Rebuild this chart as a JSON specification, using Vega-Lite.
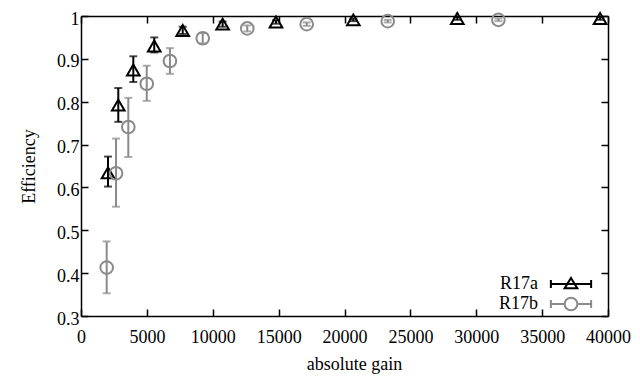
{
  "$schema": "https://vega.github.io/schema/vega-lite/v6.json",
  "width": 527,
  "height": 300,
  "autosize": "none",
  "padding": {"left": 81, "top": 16, "right": 32, "bottom": 68},
  "background": "white",
  "config": {
    "view": {"stroke": null},
    "font": "Liberation Serif",
    "axis": {
      "labelFont": "Liberation Serif",
      "titleFont": "Liberation Serif",
      "labelFontSize": 18,
      "titleFontSize": 18,
      "titleFontWeight": "normal",
      "labelColor": "black",
      "titleColor": "black",
      "domainColor": "black",
      "tickColor": "black",
      "domainWidth": 1.5,
      "tickWidth": 1.5,
      "tickSize": -7,
      "labelFlush": false,
      "grid": false
    },
    "legend": {
      "labelFont": "Liberation Serif",
      "labelFontSize": 18,
      "labelColor": "black"
    }
  },
  "data": {
    "values": [
      {"series": "R17a", "gain": 2050, "eff": 0.634, "lo": 0.602, "hi": 0.672},
      {"series": "R17a", "gain": 2830, "eff": 0.792, "lo": 0.753, "hi": 0.832},
      {"series": "R17a", "gain": 3970, "eff": 0.874, "lo": 0.846, "hi": 0.906},
      {"series": "R17a", "gain": 5560, "eff": 0.930, "lo": 0.915, "hi": 0.950},
      {"series": "R17a", "gain": 7720, "eff": 0.966, "lo": 0.958, "hi": 0.975},
      {"series": "R17a", "gain": 10750, "eff": 0.981, "lo": 0.975, "hi": 0.987},
      {"series": "R17a", "gain": 14800, "eff": 0.986, "lo": 0.982, "hi": 0.990},
      {"series": "R17a", "gain": 20670, "eff": 0.991, "lo": 0.988, "hi": 0.994},
      {"series": "R17a", "gain": 28560, "eff": 0.994, "lo": 0.991, "hi": 0.997},
      {"series": "R17a", "gain": 39400, "eff": 0.994, "lo": 0.991, "hi": 0.997},
      {"series": "R17b", "gain": 1950, "eff": 0.413, "lo": 0.353, "hi": 0.474},
      {"series": "R17b", "gain": 2660, "eff": 0.633, "lo": 0.555, "hi": 0.714},
      {"series": "R17b", "gain": 3590, "eff": 0.741, "lo": 0.671, "hi": 0.809},
      {"series": "R17b", "gain": 4990, "eff": 0.842, "lo": 0.802, "hi": 0.884},
      {"series": "R17b", "gain": 6750, "eff": 0.895, "lo": 0.865, "hi": 0.925},
      {"series": "R17b", "gain": 9240, "eff": 0.948, "lo": 0.936, "hi": 0.960},
      {"series": "R17b", "gain": 12620, "eff": 0.971, "lo": 0.964, "hi": 0.978},
      {"series": "R17b", "gain": 17130, "eff": 0.981, "lo": 0.977, "hi": 0.985},
      {"series": "R17b", "gain": 23280, "eff": 0.988, "lo": 0.985, "hi": 0.991},
      {"series": "R17b", "gain": 31680, "eff": 0.991, "lo": 0.988, "hi": 0.994}
    ]
  },
  "resolve": {"axis": {"x": "independent", "y": "independent"}},
  "layer": [
    {
      "mark": {"type": "rule", "strokeWidth": 2},
      "encoding": {
        "x": {"field": "gain", "type": "quantitative", "scale": {"domain": [0, 40000], "nice": false},
              "axis": {"orient": "bottom", "values": [0,5000,10000,15000,20000,25000,30000,35000,40000], "format": "d", "title": "absolute gain", "labelPadding": 19, "titlePadding": 9, "titleX": 273}},
        "y": {"field": "lo", "type": "quantitative", "scale": {"domain": [0.3, 1], "nice": false, "zero": false},
              "axis": {"orient": "left", "values": [0.3,0.4,0.5,0.6,0.7,0.8,0.9,1], "format": ".1~f", "title": "Efficiency", "labelPadding": 9, "labelOffset": 3, "titlePadding": 18}},
        "y2": {"field": "hi"},
        "detail": {"field": "series", "type": "nominal"},
        "stroke": {"condition": {"test": "datum.series === 'R17b'", "value": "#8a8a8a"}, "value": "#000000"}
      }
    },
    {
      "mark": {"type": "tick", "orient": "horizontal", "size": 8, "thickness": 2},
      "encoding": {
        "x": {"field": "gain", "type": "quantitative", "axis": {"orient": "top", "values": [0,5000,10000,15000,20000,25000,30000,35000,40000], "labels": false, "title": null}},
        "y": {"field": "hi", "type": "quantitative", "axis": {"orient": "right", "values": [0.3,0.4,0.5,0.6,0.7,0.8,0.9,1], "labels": false, "title": null}},
        "fill": {"condition": {"test": "datum.series === 'R17b'", "value": "#8a8a8a"}, "value": "#000000"}
      }
    },
    {
      "mark": {"type": "tick", "orient": "horizontal", "size": 8, "thickness": 2},
      "encoding": {
        "x": {"field": "gain", "type": "quantitative", "axis": null},
        "y": {"field": "lo", "type": "quantitative", "axis": null},
        "fill": {"condition": {"test": "datum.series === 'R17b'", "value": "#8a8a8a"}, "value": "#000000"}
      }
    },
    {
      "mark": {"type": "point", "filled": false, "strokeWidth": 2, "size": 160, "opacity": 1},
      "encoding": {
        "x": {"field": "gain", "type": "quantitative", "axis": null},
        "y": {"field": "eff", "type": "quantitative", "axis": null},
        "stroke": {"condition": {"test": "datum.series === 'R17b'", "value": "#8a8a8a"}, "value": "#000000"},
        "shape": {"condition": {"test": "datum.series === 'R17b'", "value": "circle"}, "value": "triangle-up"}
      }
    },
    {
      "mark": {"type": "point", "filled": false, "strokeWidth": 2, "size": 160, "opacity": 0},
      "encoding": {
        "x": {"field": "gain", "type": "quantitative", "axis": null},
        "y": {"field": "eff", "type": "quantitative", "axis": null},
        "color": {"field": "series", "type": "nominal", "scale": {"domain": ["R17a", "R17b"], "range": ["#000000", "#8a8a8a"]},
                  "legend": {"title": null, "orient": "none", "legendX": 481, "legendY": 259, "labelAlign": "right", "labelOffset": -42, "symbolSize": 180, "symbolStrokeWidth": 2, "symbolOpacity": 1, "rowPadding": 0, "labelBaseline": "middle",
                             "encode": {"labels": {"dy": {"value": 4}}}}},
        "shape": {"field": "series", "type": "nominal", "scale": {"domain": ["R17a", "R17b"], "range": ["M-3,0L3,0M-3,-0.6L-3,0.6M3,-0.6L3,0.6M0,-0.9L0.95,0.65L-0.95,0.65Z", "M-3,0L-0.95,0M0.95,0L3,0M-3,-0.6L-3,0.6M3,-0.6L3,0.6M-0.95,0A0.95,0.95,0,1,0,0.95,0A0.95,0.95,0,1,0,-0.95,0"]}}
      }
    }
  ]
}
